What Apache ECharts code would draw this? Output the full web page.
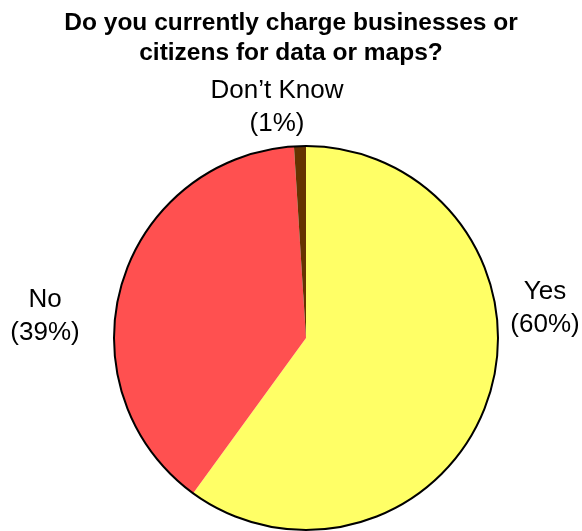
<!DOCTYPE html>
<html>
<head>
<meta charset="utf-8">
<script src="https://cdn.jsdelivr.net/npm/echarts@6/dist/echarts.min.js"></script>
<style>
  html, body { margin: 0; padding: 0; background: #fff; }
  #chart { width: 582px; height: 531px; }
</style>
</head>
<body>
<div id="chart"></div>
<script>
// Survey answers and their shares (percent)
const categories = ['Yes', 'No', 'Don\u2019t Know'];
const shares = [60, 39, 1];
const sliceColors = ['#FFFF66', '#FF5050', '#663300'];

// Where each answer's label block sits (centre of the text)
const labelSpots = [
  { x: 545, y: 308 },
  { x: 45, y: 316 },
  { x: 277, y: 107 }
];

const chart = echarts.init(document.getElementById('chart'));
const font = 'Arial, "Liberation Sans", sans-serif';

chart.setOption({
  animation: false,
  title: {
    text: 'Do you currently charge businesses or\ncitizens for data or maps?',
    left: 'center',
    top: 3,
    textStyle: { fontFamily: font, fontSize: 24.5, fontWeight: 'bold', color: '#000', lineHeight: 30 }
  },
  series: [
    {
      type: 'pie',
      center: [306, 338],
      radius: 192,
      startAngle: 90,
      clockwise: true,
      silent: true,
      data: categories.map((name, i) => ({
        name,
        value: shares[i],
        itemStyle: { color: sliceColors[i] }
      })),
      itemStyle: { borderWidth: 0 },
      label: {
        show: true,
        position: 'outside',
        formatter: p => p.name + '\n(' + p.value + '%)',
        fontFamily: font,
        fontSize: 26,
        lineHeight: 33,
        color: '#000',
        align: 'center',
        overflow: 'none',
        width: 200
      },
      edgeDistance: 0,
      labelLine: { show: false },
      labelLayout: p => ({
        x: labelSpots[p.dataIndex].x,
        y: labelSpots[p.dataIndex].y,
        align: 'center',
        verticalAlign: 'middle'
      })
    },
    {
      // outline ring round the whole pie
      type: 'pie',
      center: [306, 338],
      radius: 192,
      silent: true,
      label: { show: false },
      labelLine: { show: false },
      data: [{ value: 1, itemStyle: { color: 'transparent', borderColor: '#000', borderWidth: 2 } }]
    }
  ]
});
</script>
</body>
</html>
